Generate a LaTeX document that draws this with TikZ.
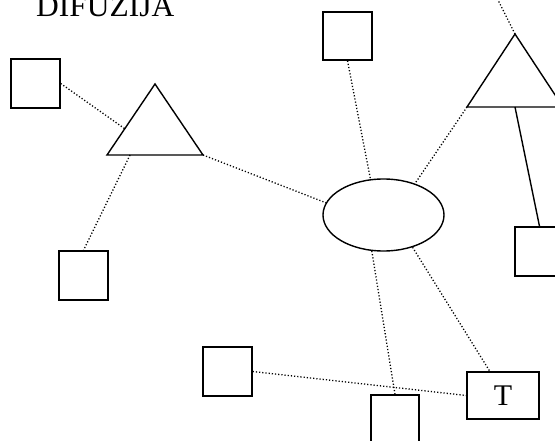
\documentclass[tikz,border=0pt]{standalone}
\usepackage{fontspec}
\setmainfont{Liberation Serif}
\usetikzlibrary{shapes.geometric,calc}
\begin{document}
\begin{tikzpicture}[x=1pt,y=-1pt,
  shp/.style={draw,line width=1.4pt,inner sep=0pt},
  sq/.style={shp,rectangle,minimum width=49pt,minimum height=49pt},
  dot/.style={line width=1.3pt,dash pattern=on 1.2pt off 2pt},
  solid link/.style={line width=1.4pt}]
\useasboundingbox (0,0) rectangle (555,441);
\clip (0,0) rectangle (555,441);
% title
\node[anchor=base west,inner sep=0pt,font=\fontsize{31.5}{33}\selectfont] (title) at (36,17) {DIFUZIJA};
% squares
\node[sq] (sqA) at (35.5,83.5) {};
\node[sq] (sqB) at (83.5,275.5) {};
\node[sq,minimum height=48pt] (sqC) at (347.5,36) {};
\node[sq] (sqD) at (227.5,371.5) {};
\node[sq,minimum width=48pt,minimum height=48pt] (sqE) at (395,419) {};
\node[sq] (sqF) at (539.5,251.5) {};
\node[shp,rectangle,minimum width=72pt,minimum height=47pt,font=\fontsize{30}{32}\selectfont] (boxT) at (503,395.5) {T};
% ellipse
\node[shp,ellipse,minimum width=121pt,minimum height=72pt] (E) at (383.5,215) {};
% triangles
\coordinate (tLa) at (155,84);
\coordinate (tLb) at (107,155);
\coordinate (tLc) at (203,155);
\draw[solid link,line join=miter] (tLa) -- (tLb) -- (tLc) -- cycle;
\coordinate (tRa) at (515,34);
\coordinate (tRb) at (467,107);
\coordinate (tRc) at (563,107);
\draw[solid link,line join=miter] (tRa) -- (tRb) -- (tRc) -- cycle;
\coordinate (off) at (490,-16);
% connectors
\draw[dot] (sqA.east) -- ($(tLb)!0.37!(tLa)$);
\draw[dot] ($(tLb)!0.24!(tLc)$) -- (sqB.north);
\draw[dot] (tLc) -- (E.168);
\draw[dot] (sqC.south) -- (E.110);
\draw[dot] (tRb) -- (E.45);
\draw[dot] (tRa) -- (off);
\draw[solid link] ($(tRb)!0.5!(tRc)$) -- (sqF.north);
\draw[dot] (E.252) -- (sqE.north);
\draw[dot] (E.312) -- ($(boxT.north west)!0.32!(boxT.north east)$);
\draw[dot] (sqD.east) -- (boxT.west);
\end{tikzpicture}
\end{document}
